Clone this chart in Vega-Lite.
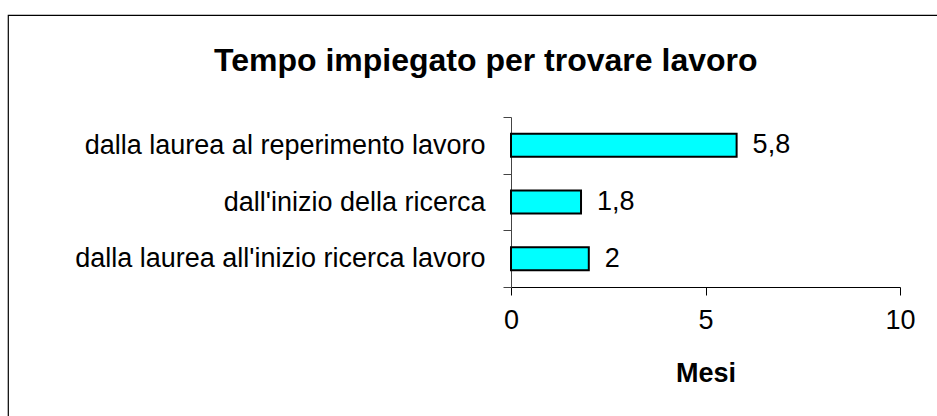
{
  "$schema": "https://vega.github.io/schema/vega-lite/v6.json",
  "usermeta": {"embedOptions": {"actions": false}},
  "autosize": {"type": "none"},
  "padding": {"left": 8, "top": 15, "right": 0, "bottom": 0},
  "width": 929,
  "height": 401,
  "background": "white",
  "config": {
    "view": {"stroke": "black", "strokeWidth": 1.2, "strokeDash": [929, 1330, 401, 10]},
    "font": "Liberation Sans",
    "locale": {"number": {"decimal": ",", "thousands": ".", "grouping": [3], "currency": ["€", ""]}}
  },
  "title": {
    "text": "Tempo impiegato per trovare lavoro",
    "font": "Liberation Sans",
    "fontSize": 32,
    "fontWeight": "bold",
    "color": "black",
    "anchor": "start",
    "frame": "group",
    "dx": 206,
    "offset": -77
  },
  "data": {
    "values": [
      {"fase": "dalla laurea al reperimento lavoro", "mesi": 5.8},
      {"fase": "dall'inizio della ricerca", "mesi": 1.8},
      {"fase": "dalla laurea all'inizio ricerca lavoro", "mesi": 2}
    ]
  },
  "encoding": {
    "y": {
      "field": "fase",
      "type": "nominal",
      "sort": null,
      "scale": {"paddingInner": 0, "paddingOuter": 0, "range": [102, 272]},
      "axis": {
        "title": null,
        "offset": -503,
        "tickBand": "extent",
        "tickSize": 8,
        "tickColor": "#444",
        "domainColor": "#444",
        "labelFontSize": 27,
        "labelColor": "black",
        "labelPadding": 18,
        "labelLimit": 600
      }
    },
    "x": {
      "field": "mesi",
      "type": "quantitative",
      "scale": {"domain": [0, 10], "range": [503, 892]},
      "axis": {
        "values": [0, 5, 10],
        "offset": -129,
        "grid": false,
        "title": "Mesi",
        "titleFontSize": 27,
        "titleFontWeight": "bold",
        "titleColor": "black",
        "titlePadding": 27,
        "tickSize": 8,
        "tickColor": "black",
        "domainColor": "black",
        "labelFontSize": 27,
        "labelColor": "black",
        "labelPadding": 12,
        "labelFlush": false,
        "format": "d"
      }
    }
  },
  "layer": [
    {
      "mark": {"type": "bar", "size": 23, "fill": "#00FFFF", "stroke": "black", "strokeWidth": 2}
    },
    {
      "mark": {"type": "text", "align": "left", "baseline": "middle", "dx": 16, "fontSize": 27, "color": "black"},
      "encoding": {"text": {"field": "mesi", "type": "quantitative", "format": ".1~f"}}
    }
  ]
}
